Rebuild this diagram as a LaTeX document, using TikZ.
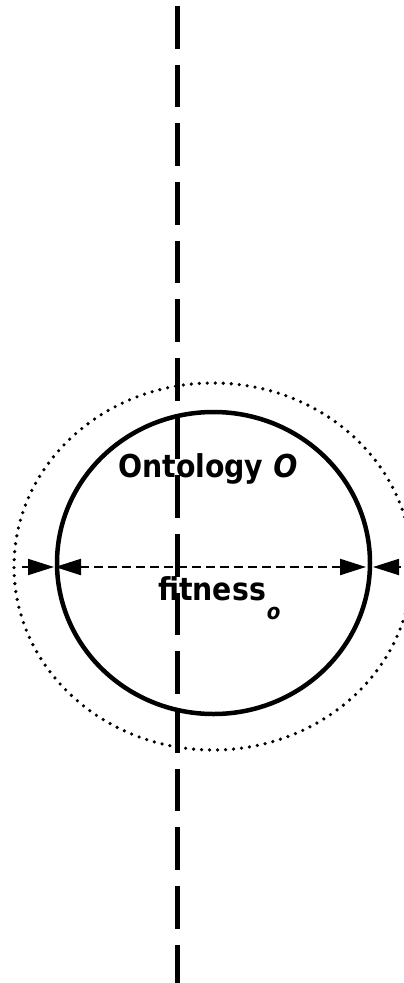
\documentclass[tikz,border=0pt]{standalone}
\usepackage{fontspec}
\setmainfont{DejaVu Sans}
\newfontfamily\lblfont{DejaVu Sans Condensed}
\usetikzlibrary{arrows.meta}
\tikzset{
  axisline/.style={line width=5pt, dash pattern=on 42.5pt off 16.17pt},
  solidell/.style={line width=4.5pt},
  dottedell/.style={line width=3.6pt, line cap=round, dash pattern=on 0pt off 8pt},
  measure/.style={line width=2.2pt, dash pattern=on 9pt off 5pt, {Triangle[length=26pt,width=16pt]}-{Triangle[length=26pt,width=16pt]}},
  pointer/.style={line width=1.8pt, -{Triangle[length=26pt,width=16pt]}},
  lbl/.style={inner sep=0pt, anchor=base west, font=\lblfont\bfseries\fontsize{31.5}{36}\selectfont}
}
\begin{document}
\begin{tikzpicture}[x=1pt,y=-1pt]
\useasboundingbox (0,0) rectangle (404,983);
\fill[white] (0,0) rectangle (404,983);
% dashed vertical axis
\coordinate (axtop) at (177.5,6);
\coordinate (axbot) at (177.5,995);
\draw[axisline] (axtop) -- (axbot);
% ellipses
\coordinate (c1) at (213.5,563);
\coordinate (c2) at (213,566.5);
\draw[solidell] (c1) ellipse [x radius=156.5, y radius=151];
\draw[dottedell] (c2) ellipse [x radius=199, y radius=183.5];
% measurement arrows
\coordinate (mL) at (55,567);
\coordinate (mR) at (366,567);
\draw[measure] (mL) -- (mR);
\coordinate (oLt) at (22,567);
\coordinate (oLh) at (54,567);
\draw[pointer] (oLt) -- (oLh);
\coordinate (oRt) at (401,567);
\coordinate (oRh) at (373,567);
\draw[pointer] (oRt) -- (oRh);
% labels
\node[lbl] (ont) at (118,477) {Ontology \textit{O}};
\node[lbl] (fit) at (158,600) {fitness\kern1pt\raisebox{-19pt}{\fontsize{22}{22}\selectfont\itshape o}};
\end{tikzpicture}
\end{document}
